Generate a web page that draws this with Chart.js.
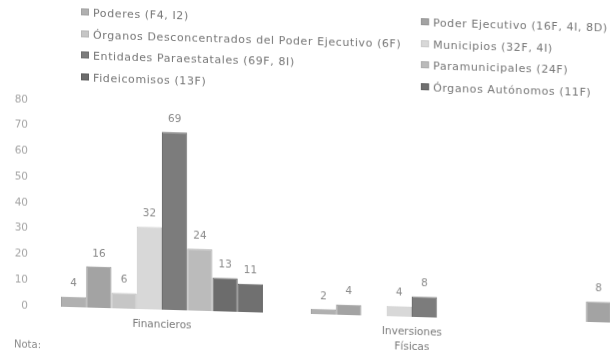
<!DOCTYPE html>
<html lang="es">
<head>
<meta charset="utf-8">
<title>Auditorías por tipo de ente</title>
<script src="https://cdn.jsdelivr.net/npm/chart.js@4.4.1/dist/chart.umd.min.js"></script>
<style>
  html, body {
    margin: 0;
    padding: 0;
    background: #ffffff;
    overflow: hidden;
    width: 610px;
    height: 350px;
  }
  #wrap {
    position: relative;
    width: 800px;
    height: 350px;
    transform: skewY(1.65deg);
    transform-origin: 0 0;
  }
  #grafica {
    position: absolute;
    left: 0;
    top: 0;
  }
  .leyenda-item {
    position: absolute;
    font-family: "DejaVu Sans", sans-serif;
    font-size: 11px;
    letter-spacing: 0.6px;
    color: #767676;
    white-space: nowrap;
    line-height: 14px;
  }
  .leyenda-item span.cuadro {
    display: inline-block;
    width: 6px;
    height: 5px;
    margin-right: 4px;
    vertical-align: 1px;
  }
  #nota {
    position: absolute;
    left: 14px;
    top: 338px;
    font-family: "DejaVu Sans", sans-serif;
    font-size: 10px;
    color: #8a8a8a;
  }
</style>
</head>
<body>
<div id="wrap">
  <canvas id="grafica" width="800" height="350"></canvas>
  <div id="leyenda"></div>
  <div id="nota">Nota:</div>
</div>

<script>
// categorías del eje x
const categorias = ["Financieros", ["Inversiones", "Físicas"], "Deuda"];

// número de auditorías por tipo de ente (F, I, D)
const poderes = [4, 2, null];
const poderEjecutivo = [16, 4, 8];
const desconcentrados = [6, null, null];
const municipios = [32, 4, null];
const paraestatales = [69, 8, null];
const paramunicipales = [24, null, null];
const fideicomisos = [13, null, null];
const autonomos = [11, null, null];

const etiquetas = [
  "Poderes (F4, I2)",
  "Poder Ejecutivo (16F, 4I, 8D)",
  "Órganos Desconcentrados del Poder Ejecutivo (6F)",
  "Municipios (32F, 4I)",
  "Entidades Paraestatales (69F, 8I)",
  "Paramunicipales (24F)",
  "Fideicomisos (13F)",
  "Órganos Autónomos (11F)",
];

const ticksY = [0, 10, 20, 30, 40, 50, 60, 70, 80];

const series = [
  poderes,
  poderEjecutivo,
  desconcentrados,
  municipios,
  paraestatales,
  paramunicipales,
  fideicomisos,
  autonomos,
];

// tonos de gris de cada serie
const colores = [
  "#b0b0b0",
  "#a3a3a3",
  "#c6c6c6",
  "#d8d8d8",
  "#7c7c7c",
  "#bbbbbb",
  "#6c6c6c",
  "#707070",
];
const bordes = [
  "#a2a2a2",
  "#959595",
  "#b8b8b8",
  "#cacaca",
  "#6e6e6e",
  "#adadad",
  "#5e5e5e",
  "#626262",
];

// leyenda en dos columnas
const leyenda = document.getElementById("leyenda");
etiquetas.forEach((texto, i) => {
  const col = i % 2;
  const fila = Math.floor(i / 2);
  const item = document.createElement("div");
  item.className = "leyenda-item";
  item.style.left = (col === 0 ? 81 : 421) + "px";
  item.style.top = 4 + fila * 21.5 + "px";
  item.innerHTML = `<span class="cuadro" style="background:${colores[i]};border:0.5px solid ${bordes[i]}"></span>${texto}`;
  leyenda.appendChild(item);
});

// valores encima de cada barra
const valoresPlugin = {
  id: "valores",
  afterDatasetsDraw(chart) {
    const ctx = chart.ctx;
    ctx.save();
    ctx.font = "10.5px 'DejaVu Sans', sans-serif";
    ctx.fillStyle = "#8a8a8a";
    ctx.textAlign = "center";
    ctx.textBaseline = "middle";
    chart.data.datasets.forEach((ds, i) => {
      const meta = chart.getDatasetMeta(i);
      meta.data.forEach((bar, j) => {
        const v = ds.data[j];
        if (v === null || v === undefined) return;
        ctx.fillText(String(v), bar.x, bar.y - 13);
      });
    });
    ctx.restore();
  },
};

new Chart(document.getElementById("grafica"), {
  type: "bar",
  data: {
    labels: categorias,
    datasets: series.map((datos, i) => ({
      label: etiquetas[i],
      data: datos,
      backgroundColor: colores[i],
      borderColor: bordes[i],
      borderWidth: 1,
      categoryPercentage: 0.808,
      barPercentage: 1.0,
    })),
  },
  options: {
    responsive: false,
    animation: false,
    layout: {
      padding: { top: 99, left: 0, right: 13, bottom: 0 },
    },
    plugins: {
      legend: { display: false },
      tooltip: { enabled: false },
    },
    scales: {
      x: {
        grid: { display: false, drawTicks: false },
        border: { display: false },
        ticks: {
          padding: 8,
          color: "#7a7a7a",
          maxRotation: 0,
          autoSkip: false,
          font: { family: "'DejaVu Sans', sans-serif", size: 10.5, lineHeight: 1.4 },
        },
        afterFit(scale) {
          scale.height = 45;
        },
      },
      y: {
        min: 0,
        max: 80,
        afterBuildTicks(scale) {
          scale.ticks = ticksY.map((v) => ({ value: v }));
        },
        grid: { display: false, drawTicks: false },
        border: { display: false },
        ticks: {
          padding: 9,
          color: "#a5a5a5",
          font: { family: "'DejaVu Sans', sans-serif", size: 10.5 },
        },
        afterFit(scale) {
          scale.width = 37;
        },
      },
    },
  },
  plugins: [valoresPlugin],
});
</script>
</body>
</html>
